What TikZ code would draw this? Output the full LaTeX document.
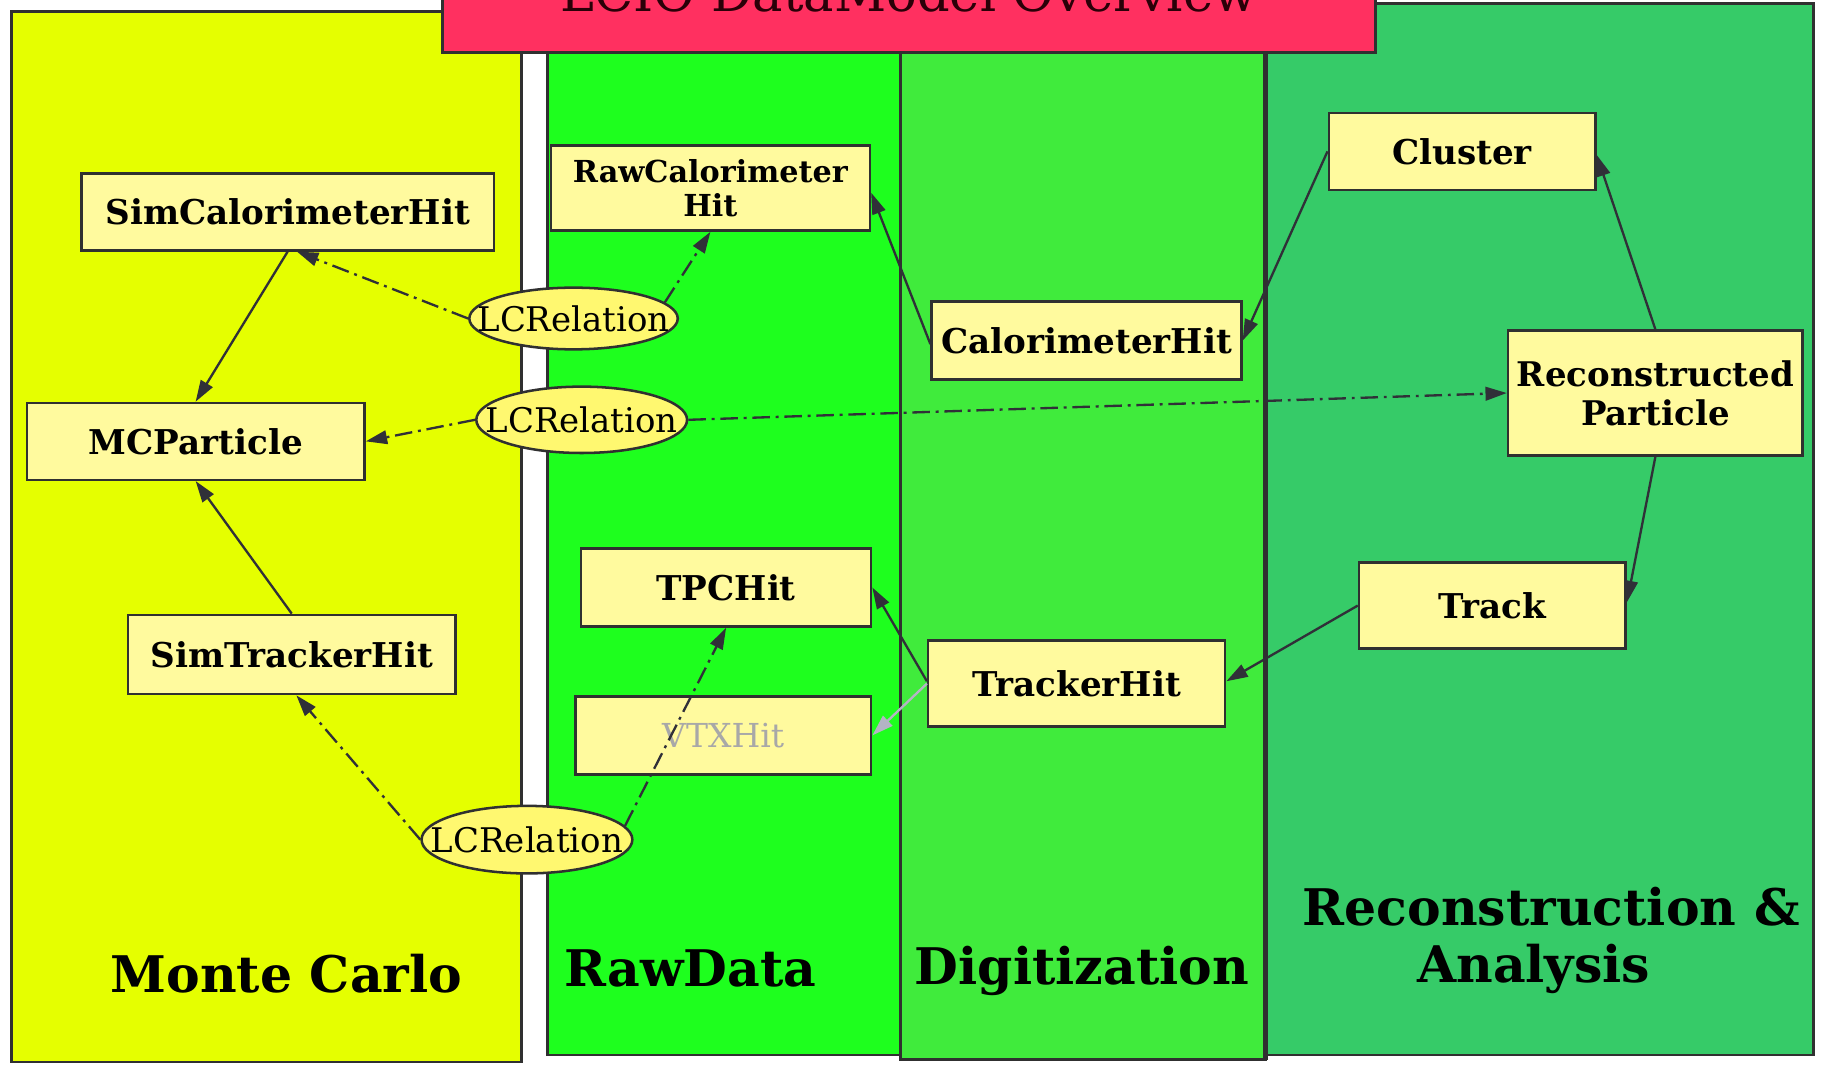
\documentclass[tikz,border=0pt]{standalone}
\usepackage{fontspec}
\setmainfont{DejaVu Serif}
\usetikzlibrary{arrows.meta,shapes.geometric,calc}

\definecolor{mcfill}{HTML}{E5FF00}
\definecolor{rawfill}{HTML}{1EFF1E}
\definecolor{digifill}{HTML}{40EB3C}
\definecolor{recofill}{HTML}{36CB68}
\definecolor{titlefill}{HTML}{FF3060}
\definecolor{boxfill}{HTML}{FFFA9E}
\definecolor{relfill}{HTML}{FFF870}
\definecolor{bordc}{HTML}{303030}
\definecolor{edgec}{HTML}{303038}
\definecolor{fadec}{HTML}{B4B4C4}
\definecolor{fadetext}{HTML}{A8A8A8}
\definecolor{titletext}{HTML}{2A0008}

\tikzset{
  panel/.style={draw=bordc, line width=1.4pt},
  cls/.style={draw=bordc, fill=boxfill, line width=1.3pt, inner sep=0pt,
    align=center, font=\bfseries\fontsize{17.6}{20}\selectfont},
  rel/.style={ellipse, draw=bordc, fill=relfill, line width=1.3pt, inner sep=0pt},
  reltext/.style={inner sep=0pt, font=\fontsize{17.5}{20}\selectfont},
  grp/.style={font=\bfseries\fontsize{26}{32}\selectfont, align=center},
  link/.style={draw=edgec, line width=1.2pt, -{Triangle[length=11pt,width=7pt]}},
  rellink/.style={link, dash pattern=on 9pt off 3pt on 1.5pt off 3pt},
  faintlink/.style={draw=fadec, line width=1.2pt, -{Triangle[length=11pt,width=7pt]}}
}

\begin{document}
\begin{tikzpicture}[x=0.6pt,y=-0.6pt]
\useasboundingbox (0,0) rectangle (1568,915);
\clip (0,0) rectangle (1568,915);
\fill[white] (0,0) rectangle (1568,915);

% stage panels
\filldraw[panel, fill=mcfill]   (10,10)   rectangle (448,912);
\filldraw[panel, fill=rawfill]  (470,10)  rectangle (773,906);
\filldraw[panel, fill=recofill] (1087,3)  rectangle (1557,906);
\filldraw[panel, fill=digifill] (773,10)  rectangle (1087,910);
\draw[bordc, line width=2.6pt] (1087,10) -- (1087,910);

% title bar
\filldraw[panel, fill=titlefill] (380,-60) rectangle (1181,45);
\node[anchor=base, font=\fontsize{26.3}{30}\selectfont, text=titletext] (title) at (780.5,10) {LCIO DataModel Overview};

% stage labels
\node[grp] (lblmc)   at (246,836) {Monte Carlo};
\node[grp] (lblraw)  at (593,832) {RawData};
\node[grp] (lbldigi) at (929,834) {Digitization};
\node[grp] (lblreco) at (1332,779) {Reconstruction \&};
\node[grp] (lblana)  at (1317,832) {Analysis};

% classes
\node[cls, minimum width=212.4pt, minimum height=39.6pt] (simcal) at (247,182) {SimCalorimeterHit};
\node[cls, minimum width=174pt,   minimum height=39.6pt] (mcp)    at (168,379) {MCParticle};
\node[cls, minimum width=168.6pt, minimum height=40.8pt] (simtrk) at (250.5,562) {SimTrackerHit};
\node[cls, minimum width=164.4pt, minimum height=43.8pt, font=\bfseries\fontsize{15.6}{17.4}\selectfont] (rawcal) at (610,161.5) {RawCalorimeter\\Hit};
\node[cls, minimum width=149.4pt, minimum height=40.2pt] (tpc)    at (623.5,504.5) {TPCHit};
\node[cls, minimum width=152.4pt, minimum height=40.2pt, font=\fontsize{17}{20}\selectfont, text=fadetext] (vtx) at (621,631.5) {VTXHit};
\node[cls, minimum width=159.6pt, minimum height=40.2pt] (calhit) at (933,292.5) {CalorimeterHit};
\node[cls, minimum width=153pt,   minimum height=44.4pt] (trkhit) at (924.5,587) {TrackerHit};
\node[cls, minimum width=137.4pt, minimum height=39.6pt] (cluster) at (1255.5,130) {Cluster};
\node[cls, minimum width=151.8pt, minimum height=64.2pt, font=\bfseries\fontsize{17.5}{20}\selectfont] (reco) at (1421.5,337.5) {Reconstructed\\Particle};
\node[cls, minimum width=137.4pt, minimum height=44.4pt] (track)  at (1281.5,520) {Track};

% relation objects (outline, then label on top)
\node[rel, minimum width=107.4pt, minimum height=31.8pt] (lcr1) at (492.5,273.5) {};
\node[reltext] (lcr1t) at (lcr1) {LCRelation};
\node[rel, minimum width=108.6pt, minimum height=34.2pt] (lcr2) at (499.5,360.5) {};
\node[reltext] (lcr2t) at (lcr2) {LCRelation};
\node[rel, minimum width=108.6pt, minimum height=34.8pt] (lcr3) at (452.5,721) {};
\node[reltext] (lcr3t) at (lcr3) {LCRelation};

% Monte Carlo links
\draw[link] (simcal.south) -- (mcp.north);
\draw[link] (simtrk.north) -- (mcp.south);

% relation links
\draw[rellink] (lcr1.west) -- ($(simcal.south)+(8,0)$);
\draw[rellink] (lcr1.10) -- (rawcal.south);
\draw[rellink] (lcr2.west) -- (mcp.east);
\draw[rellink] (lcr2.east) -- (reco.west);
\draw[rellink] (lcr3.west) -- ($(simtrk.south)+(4,0)$);
\draw[rellink] (lcr3.8) -- (tpc.south);

% digitization and reconstruction links
\draw[link] ($(calhit.west)+(0,3)$) -- ($(rawcal.east)+(0,4)$);
\draw[link] (cluster.west) -- (calhit.east);
\draw[link] (reco.north) -- ($(cluster.east)+(0,3)$);
\draw[link] (reco.south) -- ($(track.east)+(0,-3)$);
\draw[link] (track.west) -- ($(trkhit.east)+(0,-2)$);
\draw[link] ($(trkhit.west)+(0,-2)$) -- (tpc.east);
\draw[faintlink] (trkhit.west) -- (vtx.east);
\end{tikzpicture}
\end{document}
